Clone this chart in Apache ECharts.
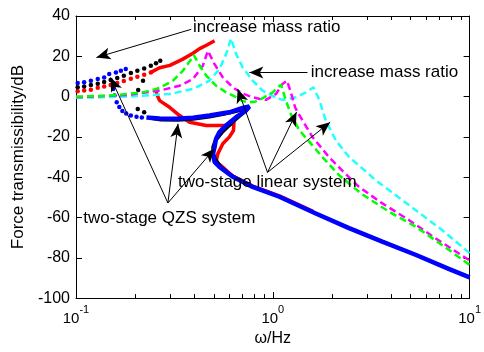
<!DOCTYPE html>
<html>
<head>
<meta charset="utf-8">
<script src="https://cdn.jsdelivr.net/npm/echarts@6/dist/echarts.min.js"></script>
<style>
html, body { margin: 0; padding: 0; background: #fff; }
#chart { width: 484px; height: 352px; }
</style>
</head>
<body>
<div id="chart"></div>
<script>
// two-stage linear system, [frequency Hz, transmissibility dB]
var linCyan = [[0.1,-0.6],[0.181,0],[0.299,1.3],[0.393,3.8],[0.477,7.9],[0.536,13.7],[0.579,21.1],[0.614,28.8],[0.651,21.1],[0.703,14.5],[0.79,7.9],[0.888,3],[1.038,-0.6],[1.12,-1.6],[1.2,-1.2],[1.31,-0.3],[1.473,2.1],[1.61,4.6],[1.72,-1.5],[1.86,-11.9],[2.09,-21.7],[2.44,-30],[2.96,-37],[3.33,-41.5],[3.89,-46.4],[5.31,-56.3],[7.24,-66.2],[10,-77.7]];
var linMagenta = [[0.1,-0.3],[0.181,0.8],[0.266,3],[0.336,5.4],[0.393,8.7],[0.441,15.3],[0.468,22.7],[0.473,23.5],[0.506,16.1],[0.557,9.5],[0.626,4.6],[0.703,1.5],[0.79,-0.3],[0.86,-1.2],[0.924,-1.6],[1.038,1.3],[1.12,6.3],[1.18,7.9],[1.236,2],[1.3,-5.5],[1.36,-9],[1.59,-20],[1.93,-30],[2.35,-38.5],[2.74,-44.8],[3.6,-53],[4.91,-61.2],[6.7,-70.3],[10,-81.3]];
var linGreen = [[0.1,0],[0.149,0.5],[0.219,2.1],[0.266,4.3],[0.311,7.9],[0.349,12.8],[0.375,17],[0.397,20.6],[0.425,15.3],[0.459,10.4],[0.515,5.4],[0.579,2.1],[0.651,-0.3],[0.70,-2.2],[0.76,-2.8],[0.82,-2.4],[0.888,-0.8],[1.0,2.1],[1.07,4.9],[1.10,5.9],[1.166,-2],[1.236,-8.8],[1.36,-16.5],[1.473,-20.5],[1.787,-30],[2.17,-39],[2.8,-48],[3.89,-57.1],[5.31,-64.5],[7.24,-73.6],[10,-83.5]];

// two-stage QZS system, sweep points
var qzsRedDots = [[0.102,2.6],[0.110,3.0],[0.119,3.4],[0.129,4.4],[0.139,5.0],[0.150,5.8],[0.162,6.8],[0.175,7.8],[0.190,8.8],[0.205,9.8],[0.222,10.8],[0.240,12.0]];
var qzsRedUpper = [[0.240,12.0],[0.266,14.3],[0.30,15.5],[0.349,18.6],[0.393,21.5],[0.425,23.8],[0.46,25.5],[0.506,27.7]];
var qzsRedLower = [[0.256,3.8],[0.257,1.3],[0.266,-2],[0.299,-5.3],[0.336,-9.4],[0.378,-12.7],[0.459,-14.3],[0.536,-14.3],[0.602,-14.3],[0.635,-12.7],[0.631,-16.8],[0.602,-20],[0.557,-23.4],[0.526,-28.3],[0.515,-32.4],[0.536,-33.6],[0.626,-39.4],[0.79,-44.4],[1.08,-49.3],[1.6,-57]];
var qzsBlackDots = [[0.102,4.6],[0.110,5.0],[0.119,5.8],[0.129,6.4],[0.139,7.2],[0.150,8.2],[0.162,9.2],[0.175,10.4],[0.190,11.7],[0.205,12.8],[0.222,14.0],[0.240,15.3],[0.255,16.6],[0.268,17.8],[0.219,7.9],[0.207,3.3],[0.206,-6.2],[0.222,-7.8]];
var qzsBlackLower = [[0.237,-10.6],[0.27,-11.5],[0.33,-11.6],[0.393,-11.1],[0.477,-10],[0.557,-8.8],[0.65,-7.3],[0.75,-5.6],[0.70,-8.5],[0.62,-13],[0.55,-18],[0.51,-22],[0.497,-25],[0.497,-28],[0.51,-31],[0.54,-34.5],[0.6,-38.5],[0.7,-42]];
var qzsBlueDots = [[0.102,6.8],[0.110,7.1],[0.119,7.9],[0.129,8.7],[0.139,9.5],[0.1475,11.2],[0.1595,12],[0.169,12.8],[0.179,13.7],[0.1545,3.8],[0.157,0.5],[0.161,-2.8],[0.166,-5.2],[0.172,-7.2],[0.180,-8.4],[0.190,-9.4],[0.203,-10.0],[0.216,-10.4]];
var qzsBlueLower = [[0.228,-10.4],[0.266,-10.9],[0.324,-11],[0.393,-10.5],[0.477,-9.4],[0.557,-8.3],[0.602,-7.8],[0.703,-5.6],[0.76,-4.9],[0.73,-7],[0.651,-10.2],[0.579,-14.3],[0.536,-17.6],[0.515,-20.9],[0.506,-25],[0.497,-28.3],[0.506,-32.4],[0.536,-34.9],[0.626,-39.8],[0.79,-44.8],[1.08,-49.7],[1.654,-58],[2.44,-65.3],[3.6,-72],[5.31,-78.5],[7.83,-85.5],[10,-89.7]];

var minorTicks = [0.2,0.3,0.4,0.5,0.6,0.7,0.8,0.9,2,3,4,5,6,7,8,9];

// annotation arrows [from, to] and texts, in data coordinates
var arrows = [
  [[0.385,33.4],[0.127,19.4]],
  [[1.50,12],[0.76,12]],
  [[0.94,-37.6],[0.663,3.8]],
  [[0.94,-37.6],[1.32,-7.7]],
  [[0.94,-37.6],[1.955,-12.7]],
  [[0.293,-52.8],[0.150,9.5]],
  [[0.293,-52.8],[0.33,-13.5]],
  [[0.293,-52.8],[0.506,-25.8]]
];
var notes = [
  ['increase mass ratio', [0.393,34.2]],
  ['increase mass ratio', [1.56,12]],
  ['two-stage linear system', [0.33,-42.3]],
  ['two-stage QZS system', [0.109,-60.4]]
];

var FONT = '"Liberation Sans", Arial, sans-serif';

function dots(data, color) {
  return { type: 'scatter', data: data, symbolSize: 4.5, silent: true,
           itemStyle: { color: color, opacity: 1 } };
}
function thick(data, color, w) {
  return { type: 'line', data: data, symbol: 'none', silent: true,
           lineStyle: { color: color, width: w } };
}
function dashed(data, color) {
  return { type: 'line', data: data, symbol: 'none', silent: true,
           lineStyle: { color: color, width: 2.5, type: [7, 4] } };
}

var chart = echarts.init(document.getElementById('chart'));

var logAxis = {
  type: 'log', logBase: 10, min: 0.1, max: 10,
  axisLine: { show: true, onZero: false, lineStyle: { color: '#000', width: 1 } },
  axisTick: { show: true, inside: true, length: 6, lineStyle: { color: '#000' } },
  splitLine: { show: false }
};
var valAxis = {
  type: 'value', min: -100, max: 40, interval: 20,
  axisLine: { show: true, onZero: false, lineStyle: { color: '#000', width: 1 } },
  axisTick: { show: true, inside: true, length: 6, lineStyle: { color: '#000' } },
  splitLine: { show: false }
};

chart.setOption({
  animation: false,
  backgroundColor: '#fff',
  grid: { left: 76, right: 13, top: 16, bottom: 51 },
  xAxis: [
    Object.assign({}, logAxis, {
      position: 'bottom',
      name: 'ω/Hz', nameLocation: 'middle', nameGap: 31,
      nameTextStyle: { color: '#000', fontSize: 16, fontFamily: FONT },
      axisLabel: {
        margin: 6,
        formatter: function (v) {
          return '{b|10}{s|' + Math.round(Math.log10(v)) + '}';
        },
        rich: {
          b: { fontSize: 15, color: '#000', fontFamily: FONT, lineHeight: 22, verticalAlign: 'bottom' },
          s: { fontSize: 11, color: '#000', fontFamily: FONT, lineHeight: 12, verticalAlign: 'top' }
        }
      }
    }),
    Object.assign({}, logAxis, { position: 'top', axisLabel: { show: false } })
  ],
  yAxis: [
    Object.assign({}, valAxis, {
      position: 'left',
      name: 'Force transmissibility/dB', nameLocation: 'middle', nameGap: 49,
      nameTextStyle: { color: '#000', fontSize: 17, fontFamily: FONT },
      axisLabel: { color: '#000', fontSize: 16, fontFamily: FONT, margin: 6 }
    }),
    Object.assign({}, valAxis, { position: 'right', axisLabel: { show: false } })
  ],
  series: [
    dots(qzsRedDots, '#ff0000'),
    thick(qzsRedUpper, '#ff0000', 3.5),
    thick(qzsRedLower, '#ff0000', 3.5),
    dots(qzsBlackDots, '#000000'),
    thick(qzsBlackLower, '#000000', 3.5),
    dots(qzsBlueDots, '#0000ff'),
    thick(qzsBlueLower, '#0000ff', 4.5),
    dashed(linCyan, '#22ffff'),
    dashed(linMagenta, '#ff00ff'),
    dashed(linGreen, '#00ff00'),
    {
      type: 'line', data: [], silent: true,
      markLine: {
        silent: true, animation: false,
        symbol: ['none', 'arrow'], symbolSize: [9, 14],
        lineStyle: { color: '#000', width: 1, type: 'solid' },
        itemStyle: { color: '#000' },
        label: { show: false },
        emphasis: { disabled: true },
        data: arrows.map(function (a) { return [{ coord: a[0] }, { coord: a[1] }]; })
      },
      markPoint: {
        silent: true, animation: false,
        symbol: 'circle', symbolSize: 0,
        label: { show: true, position: 'right', distance: 0, formatter: '{b}',
                 color: '#000', fontSize: 17, fontFamily: FONT },
        data: notes.map(function (n) { return { name: n[0], coord: n[1] }; })
      }
    },
    {
      type: 'custom', silent: true, clip: false,
      data: minorTicks.map(function (v) { return [v, -100]; }),
      renderItem: function (params, api) {
        var b = api.coord([api.value(0), -100]);
        var t = api.coord([api.value(0), 40]);
        var x = Math.round(b[0]) + 0.5;
        return {
          type: 'group',
          children: [
            { type: 'line', shape: { x1: x, y1: b[1], x2: x, y2: b[1] - 4 }, style: { stroke: '#000', lineWidth: 1 } },
            { type: 'line', shape: { x1: x, y1: t[1], x2: x, y2: t[1] + 4 }, style: { stroke: '#000', lineWidth: 1 } }
          ]
        };
      }
    }
  ]
});
</script>
</body>
</html>
